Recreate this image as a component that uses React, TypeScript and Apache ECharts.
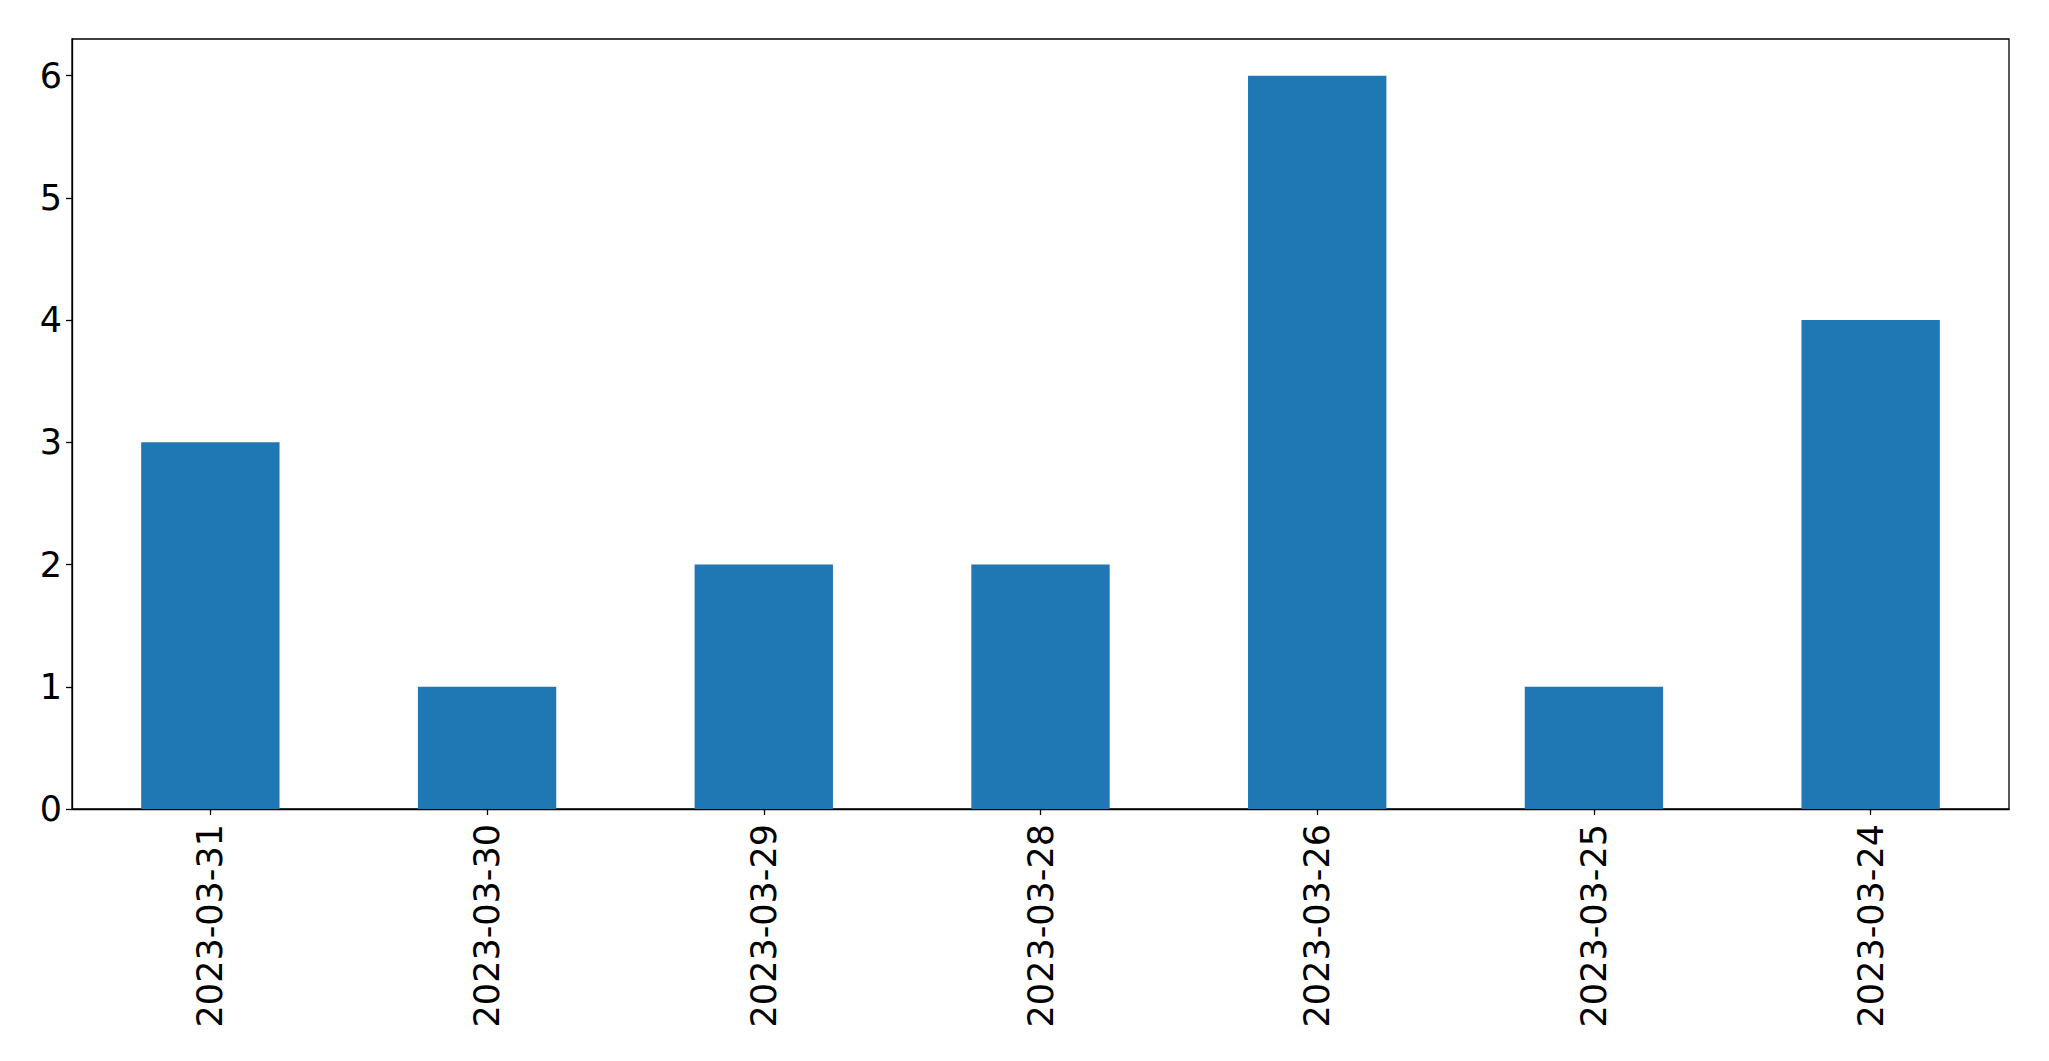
import React, { useEffect, useRef } from "react";
import * as echarts from "echarts";

const categories = ["2023-03-31", "2023-03-30", "2023-03-29", "2023-03-28", "2023-03-26", "2023-03-25", "2023-03-24"];
const values = [3, 1, 2, 2, 6, 1, 4];
const yTicks = [0, 1, 2, 3, 4, 5, 6];

export default function App() {
  const ref = useRef<HTMLDivElement>(null);
  useEffect(() => {
    if (!ref.current) return;
    const chart = echarts.init(ref.current, null, { renderer: "svg" });
    const font = "DejaVu Sans";
    chart.setOption({
      animation: false,
      backgroundColor: "#ffffff",
      textStyle: { fontFamily: font },
      grid: {
        left: 72,
        top: 39,
        width: 1937,
        height: 770,
        show: true,
        borderColor: "#000000",
        borderWidth: 1.3,
        backgroundColor: "transparent",
        containLabel: false,
      },
      xAxis: {
        type: "category",
        data: categories,
        boundaryGap: true,
        axisLine: { show: true, lineStyle: { color: "#000000", width: 1.3 } },
        axisTick: { show: true, alignWithLabel: true, length: 6, lineStyle: { color: "#000000", width: 1.3 } },
        axisLabel: { rotate: 90, margin: 15, fontSize: 35, color: "#000000", fontFamily: font, interval: 0 },
        splitLine: { show: false },
      },
      yAxis: {
        type: "value",
        min: 0,
        max: 6.3,
        interval: 1,
        axisLine: { show: true, lineStyle: { color: "#000000", width: 1.3 } },
        axisTick: { show: true, length: 6, lineStyle: { color: "#000000", width: 1.3 }, customValues: yTicks },
        axisLabel: { margin: 10, fontSize: 35, color: "#000000", fontFamily: font, customValues: yTicks },
        splitLine: { show: false },
      },
      series: [
        {
          type: "bar",
          data: values,
          barWidth: "50%",
          itemStyle: { color: "#1f77b4" },
        },
      ],
    });
    return () => chart.dispose();
  }, []);
  return (
    <div
      ref={ref}
      style={{ position: "fixed", left: 0, top: 0, width: 2049, height: 1061, background: "#fff" }}
    />
  );
}
